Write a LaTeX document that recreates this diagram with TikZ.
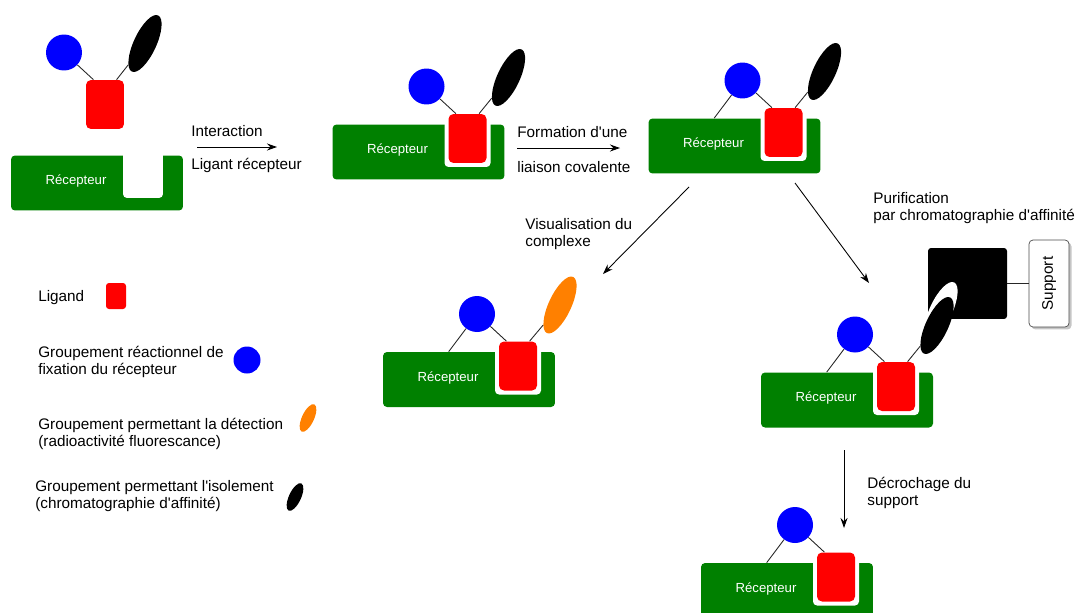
\documentclass[tikz,border=0pt]{standalone}
\usepackage{fontspec}
\setmainfont{Liberation Sans}[Ligatures=TeXOff]
\usetikzlibrary{arrows.meta,positioning,calc,shapes.geometric,shadows}
\definecolor{Vert}{HTML}{008000}
\definecolor{Rouge}{HTML}{FF0000}
\definecolor{Bleu}{HTML}{0000FF}
\definecolor{Orange}{HTML}{FF8000}

\begin{document}
\begin{tikzpicture}[x=0.02cm,y=0.02cm,
    rec/.style={fill=Vert,rounded corners=0.08cm,minimum width=3.44cm,minimum height=1.1cm,inner sep=0pt},
    rt/.style={text=white,inner sep=0pt,font=\fontsize{7.5}{8}\selectfont},
    cran/.style={fill=white,rounded corners=0.08cm,minimum width=0.92cm,minimum height=1.14cm,inner sep=0pt},
    lig/.style={fill=Rouge,rounded corners=0.1cm,minimum width=0.76cm,minimum height=0.98cm,inner sep=0pt},
    fix/.style={circle,fill=Bleu,minimum size=0.72cm,inner sep=0pt},
    iso/.style={ellipse,fill=black,minimum width=0.45cm,minimum height=1.24cm,inner sep=0pt,rotate=-25},
    det/.style={iso,fill=Orange},
    petit/.style={minimum width=0.24cm,minimum height=0.6cm},
    txt/.style={anchor=west,align=left,inner sep=0pt,yshift=-0.035cm,font=\fontsize{8.7}{9.7}\selectfont},
    tige/.style={draw=black!85,line width=0.5pt},
    a/.style={-{Stealth[length=2mm,width=1.4mm]},line width=0.5pt}]
  \path[use as bounding box] (0,0) rectangle (1077,-612);
  \clip (0,0) rectangle (1077,-612);

  % ligand libre et recepteur vide
  \node[rec] (g1) at (97,-183) {};
  \node[cran,minimum width=0.8cm,minimum height=0.96cm] (n1) at ($(g1)+(46,9)$) {};
  \node[rt] (r1) at ($(g1)+(-21,1.5)$) {Récepteur};
  \node[lig] (l1) at (105,-104.5) {};
  \node[fix] (b1) at ($(l1)+(-41,52)$) {};
  \node[iso] (e1) at ($(l1)+(40,61)$) {};
  \draw[tige] (b1) -- (l1.115);
  \draw[tige] (e1) -- (l1.65);

  \coordinate (a1s) at (197,-147); \coordinate (a1e) at (277,-147);
  \draw[a] (a1s) -- (a1e);
  \node[txt] (t1) at (191,-129) {Interaction};
  \node[txt] (t2) at (191,-164) {Ligant récepteur};

  % complexe
  \node[rec] (g2) at (418.5,-152) {};
  \node[cran] (n2) at ($(g2)+(49,13.5)$) {};
  \node[lig] (l2) at (n2) {};
  \node[rt] (r2) at ($(g2)+(-21,1.5)$) {Récepteur};
  \node[fix] (b2) at ($(l2)+(-41,52)$) {};
  \node[iso] (e2) at ($(l2)+(41,61)$) {};
  \draw[tige] (b2) -- (l2.115);
  \draw[tige] (e2) -- (l2.65);

  \coordinate (a2s) at (517,-148); \coordinate (a2e) at (620,-148);
  \draw[a] (a2s) -- (a2e);
  \node[txt] (t3) at (517,-130) {Formation d'une};
  \node[txt] (t4) at (517,-165) {liaison covalente};

  % liaison covalente
  \node[rec] (g3) at (734.5,-146) {};
  \node[cran] (n3) at ($(g3)+(49,13.5)$) {};
  \node[lig] (l3) at (n3) {};
  \node[rt] (r3) at ($(g3)+(-21,1.5)$) {Récepteur};
  \node[fix] (b3) at ($(l3)+(-41,52)$) {};
  \node[iso] (e3) at ($(l3)+(41,61)$) {};
  \draw[tige] (b3) -- (l3.115);
  \draw[tige] (e3) -- (l3.65);
  \draw[tige] (b3) -- ($(g3.north west)+(66,0)$);

  \coordinate (a3s) at (689,-187); \coordinate (a3e) at (603,-274);
  \draw[a] (a3s) -- (a3e);
  \node[txt] (t5) at (525,-232.5) {Visualisation du\\complexe};
  \coordinate (a4s) at (795,-183); \coordinate (a4e) at (869,-283);
  \draw[a] (a4s) -- (a4e);
  \node[txt] (t6) at (873,-206.5) {Purification\\par chromatographie d'affinité};

  % visualisation
  \node[rec] (g4) at (469,-379.5) {};
  \node[cran] (n4) at ($(g4)+(49,13.5)$) {};
  \node[lig] (l4) at (n4) {};
  \node[rt] (r4) at ($(g4)+(-21,1.5)$) {Récepteur};
  \node[fix] (b4) at ($(l4)+(-41,52)$) {};
  \node[det] (e4) at ($(l4)+(42,61)$) {};
  \draw[tige] (b4) -- (l4.115);
  \draw[tige] (e4) -- (l4.65);
  \draw[tige] (b4) -- ($(g4.north west)+(66,0)$);

  % purification sur support
  \node[rec] (g5) at (847,-400) {};
  \node[cran] (n5) at ($(g5)+(49,13.5)$) {};
  \node[lig] (l5) at (n5) {};
  \node[rt] (r5) at ($(g5)+(-21,1.5)$) {Récepteur};
  \node[fix] (b5) at ($(l5)+(-41,52)$) {};
  \node[fill=black,rounded corners=0.06cm,minimum width=1.58cm,minimum height=1.42cm,inner sep=0pt] (sq) at (967.5,-283.5) {};
  \node[draw=black!70,fill=white,rounded corners=0.08cm,minimum width=0.8cm,minimum height=1.74cm,inner sep=0pt,
        drop shadow={shadow xshift=0.05cm,shadow yshift=-0.05cm,fill=black!45},font=\fontsize{8.7}{9.7}\selectfont] (sup) at (1049,-283.5) {\rotatebox{90}{Support}};
  \draw[tige] (sq) -- (sup);
  \node[iso,fill=white] (w5) at ($(l5)+(45,76)$) {};
  \node[iso] (e5) at ($(l5)+(41,61)$) {};
  \draw[tige] (b5) -- (l5.115);
  \draw[tige] (e5) -- (l5.65);
  \draw[tige] (b5) -- ($(g5.north west)+(66,0)$);

  \coordinate (a5s) at (844,-450); \coordinate (a5e) at (844,-528);
  \draw[a] (a5s) -- (a5e);
  \node[txt] (t7) at (867,-491.5) {Décrochage du\\support};

  % decrochage
  \node[rec] (g6) at (787,-590.5) {};
  \node[cran] (n6) at ($(g6)+(49,13.5)$) {};
  \node[lig] (l6) at (n6) {};
  \node[rt] (r6) at ($(g6)+(-21,1.5)$) {Récepteur};
  \node[fix] (b6) at ($(l6)+(-41,52)$) {};
  \draw[tige] (b6) -- (l6.115);
  \draw[tige] (b6) -- ($(g6.north west)+(66,0)$);

  % legende
  \node[txt] (k1) at (38,-296) {Ligand};
  \node[lig,minimum width=0.4cm,minimum height=0.52cm,rounded corners=0.06cm] (kl) at (116,-296) {};
  \node[txt] (k2) at (38,-360.5) {Groupement réactionnel de\\fixation du récepteur};
  \node[fix,minimum size=0.54cm] (kb) at (247,-360) {};
  \node[txt] (k3) at (38,-432) {Groupement permettant la détection\\(radioactivité fluorescance)};
  \node[det,petit] (ko) at (308,-418) {};
  \node[txt] (k4) at (35,-494.5) {Groupement permettant l'isolement\\(chromatographie d'affinité)};
  \node[iso,petit] (kn) at (295,-497) {};
\end{tikzpicture}
\end{document}
